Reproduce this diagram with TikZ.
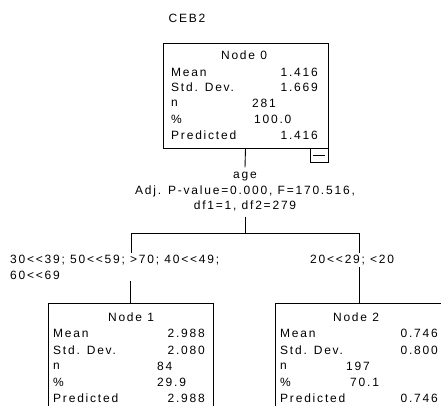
\documentclass[tikz,border=0pt]{standalone}
\usepackage{fontspec}
\usepackage{tikz}
\usetikzlibrary{positioning}
\newfontfamily\spssfont{Liberation Sans}[LetterSpace=15]

\tikzset{
  spss/.style={font=\spssfont\fontsize{12}{15.5}\selectfont, inner sep=0pt},
  lbl/.style={spss, anchor=west},
  val/.style={spss, anchor=east},
  num/.style={spss, anchor=west},
  nodebox/.style={draw, line width=0.9, minimum width=165, minimum height=120},
}

\begin{document}
\begin{tikzpicture}[x=1pt,y=1pt,yscale=-1,xscale=1]
\useasboundingbox (0,0) rectangle (441,405);
\clip (0,0) rectangle (441,405);
\node[spss] (title) at (187,18) {CEB2};
% root node
\node[nodebox, minimum height=105] (n0) at (245.5,95.5) {};
\node[spss] (n0t) at (244,55) {Node 0};
\node[lbl] (n0mean) at (171,72) {Mean}; \node[val] (n0meanv) at (318,72) {1.416};
\node[lbl] (n0sd) at (171,87) {Std. Dev.}; \node[val] (n0sdv) at (318,87) {1.669};
\node[lbl] (n0n) at (171,103) {n}; \node[num] (n0nv) at (252,103) {281};
\node[lbl] (n0pc) at (171,119) {\%}; \node[num] (n0pcv) at (254,119) {100.0};
\node[lbl] (n0pr) at (171,135) {Predicted}; \node[val] (n0prv) at (318,135) {1.416};
\node[draw, line width=0.9, minimum width=18, minimum height=14, anchor=north east] (n0tog) at (n0.south east) {};
\draw [line width=0.9] ([xshift=3]n0tog.west) -- ([xshift=-3]n0tog.east);
% split
\node[spss, align=center, inner ysep=5] (split0) at (245,192) {age\\Adj. P-value=0.000, F=170.516,\\df1=1, df2=279};
\coordinate (fork) at (245,233);
\coordinate (forkL) at (131,233);
\coordinate (forkR) at (359,233);
\draw [line width=0.9] (n0.south) -- (split0.north);
\draw [line width=0.9] (split0.south) -- (fork);
\draw [line width=0.9] (forkL) -- (forkR);
% children
\node[nodebox] (n1) at (130.5,363) {};
\node[nodebox, minimum width=168] (n2) at (359,363) {};
\node[spss, align=left, anchor=north west, inner ysep=2] (cut1) at (10,253) {30<<39; 50<<59; >70; 40<<49;\\60<<69};
\node[spss, anchor=north west, inner ysep=2] (cut2) at (310,253) {20<<29; <20};
\draw [line width=0.9] (forkL) -- (forkL |- cut1.north);
\draw [line width=0.9] (cut1.south -| n1.north) -- (n1.north);
\draw [line width=0.9] (forkR) -- (forkR |- cut2.north);
\draw [line width=0.9] (cut2.south -| n2.north) -- (n2.north);
\node[spss] (n1t) at (131,317) {Node 1};
\node[lbl] (n1mean) at (53,333) {Mean}; \node[val] (n1meanv) at (205,333) {2.988};
\node[lbl] (n1sd) at (53,350) {Std. Dev.}; \node[val] (n1sdv) at (205,350) {2.080};
\node[lbl] (n1n) at (53,366) {n}; \node[num] (n1nv) at (157,366) {84};
\node[lbl] (n1pc) at (53,382) {\%}; \node[num] (n1pcv) at (157,382) {29.9};
\node[lbl] (n1pr) at (53,398) {Predicted}; \node[val] (n1prv) at (205,398) {2.988};
\node[spss] (n2t) at (356,317) {Node 2};
\node[lbl] (n2mean) at (280,333) {Mean}; \node[val] (n2meanv) at (438,333) {0.746};
\node[lbl] (n2sd) at (280,350) {Std. Dev.}; \node[val] (n2sdv) at (438,350) {0.800};
\node[lbl] (n2n) at (280,366) {n}; \node[num] (n2nv) at (346,366) {197};
\node[lbl] (n2pc) at (280,382) {\%}; \node[num] (n2pcv) at (350,382) {70.1};
\node[lbl] (n2pr) at (280,398) {Predicted}; \node[val] (n2prv) at (438,398) {0.746};
\end{tikzpicture}
\end{document}
